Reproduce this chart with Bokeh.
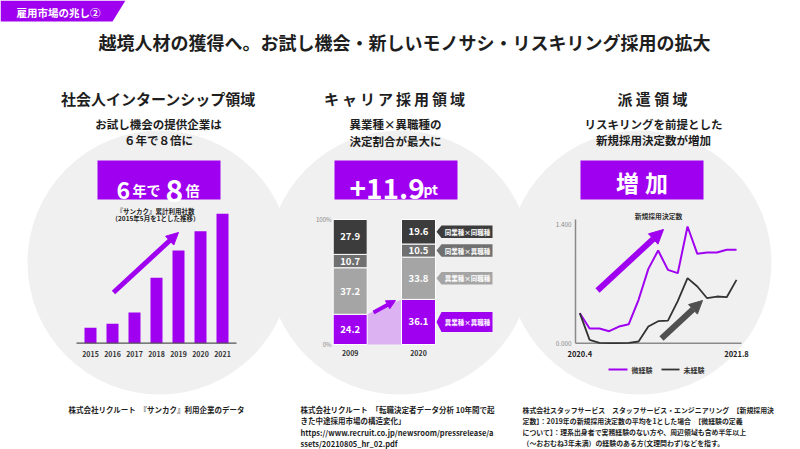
from bokeh.plotting import figure
from bokeh.models import Range1d, Arrow, NormalHead
from bokeh.core.properties import value
from bokeh.embed import file_html
from bokeh.resources import INLINE

W, H = 800, 449
FONT = "Noto Sans CJK JP"
PURPLE = "#a000f0"
LIGHT_PURPLE = "#dcb2f3"
BG = "#f0f0f0"
INK = "#1e1e1e"

# ---------------- data ----------------
sankaku_years = [2015, 2016, 2017, 2018, 2019, 2020, 2021]
sankaku_index = [1.00, 1.26, 2.00, 4.26, 6.04, 7.30, 8.43]

career_years = ["2009", "2020"]
career_ii = [24.2, 36.1]   # 異業種×異職種
career_is = [37.2, 33.8]   # 異業種×同職種
career_si = [10.7, 10.5]   # 同業種×異職種
career_ss = [27.9, 19.6]   # 同業種×同職種
career_tags = ["異業種×異職種", "異業種×同職種", "同業種×異職種", "同業種×同職種"]
career_colors = [PURPLE, "#a5a5a5", "#707070", "#3c3c3c"]

months = ["2020.4", "2020.5", "2020.6", "2020.7", "2020.8", "2020.9", "2020.10",
          "2020.11", "2020.12", "2021.1", "2021.2", "2021.3", "2021.4", "2021.5",
          "2021.6", "2021.7", "2021.8"]
slight_exp = [0.355, 0.173, 0.173, 0.142, 0.197, 0.225, 0.513, 0.879, 1.096,
              0.867, 0.828, 1.380, 1.057, 1.073, 1.073, 1.104, 1.104]
no_exp = [0.355, 0.040, 0.004, 0.000, 0.000, 0.004, 0.020, 0.197, 0.260,
          0.268, 0.497, 0.769, 0.670, 0.532, 0.552, 0.544, 0.749]
y_ticks = [0.0, 1.4]
y_tick_labels = ["0.000", "1.400"]

# ---------------- figure ----------------
p = figure(width=W, height=H, x_range=Range1d(0, W), y_range=Range1d(H, 0),
           output_backend="svg", toolbar_location=None, min_border=0,
           x_axis_location=None, y_axis_location=None,
           background_fill_color="white", border_fill_color="white",
           outline_line_color=None)
p.grid.visible = False
p.styles = {"position": "absolute", "left": "0px", "top": "0px"}


def span_range(v0, p0, v1, p1, total):
    k = (p1 - p0) / (v1 - v0)
    return Range1d(start=v0 - p0 / k, end=v0 + (total - p0) / k)


p.extra_x_ranges = {
    "bx": span_range(2015, 90, 2016, 112, W),
    "cx": span_range(0, 349.7, 1, 418, W),
    "lx": span_range(0, 579.3, 16, 736, W),
}
p.extra_y_ranges = {
    "by": span_range(0, H - 342.7, 8.43, H - 213.3, H),
    "cy": span_range(0, H - 344, 100, H - 219, H),
    "ly": span_range(0, H - 342.7, 1.4, H - 224.3, H),
}


def txt(x, y, s, size, color=INK, align="center", baseline="middle", bold=True, **kw):
    p.text(x=x if isinstance(x, list) else [x], y=y if isinstance(y, list) else [y],
           text=s if isinstance(s, list) else [s],
           text_font=value(FONT), text_font_size=f"{size}px", text_color=color,
           text_align=align, text_baseline=baseline,
           text_font_style="bold" if bold else "normal", **kw)


def arrow(x0, y0, x1, y1, color, lw, size):
    p.add_layout(Arrow(end=NormalHead(size=size, fill_color=color, line_color=color, line_width=1),
                       x_start=x0, y_start=y0, x_end=x1, y_end=y1,
                       line_color=color, line_width=lw))


# background circles
p.circle(x=[159, 399, 639], y=[262, 262, 262], radius=132, fill_color=BG, line_color=None)

# banner
p.patch([0, 125, 112, 0], [0, 0, 21, 21], fill_color=PURPLE, line_color=None)
txt(16, 12, "雇用市場の兆し②", 10.5, color="white", align="left")

# title
txt(404, 41, "越境人材の獲得へ。お試し機会・新しいモノサシ・リスキリング採用の拡大", 18)

# panel headers
txt(158, 98, "社会人インターンシップ領域", 15)
txt(394, 98, "キ\u2009ャ\u2009リ\u2009ア\u2009採\u2009用\u2009領\u2009域", 15)
txt(652, 98, "派 遣 領 域", 15)

txt(158, 123, "お試し機会の提供企業は", 11.5)
txt(158, 139, "６年で８倍に", 11.5)
txt(395, 123, "異業種×異職種の", 11.5)
txt(395, 140, "決定割合が最大に", 11.5)
txt(653, 123, "リスキリングを前提とした", 11.5)
txt(653, 139, "新規採用決定数が増加", 11.5)

# purple boxes
for x0 in (97, 334, 580):
    p.quad(left=[x0], right=[x0 + 123], top=[160], bottom=[199],
           fill_color=PURPLE, line_color=None)
txt(116, 190, "6", 23, color="white", align="left", baseline="alphabetic")
txt(132, 189, "年で", 14, color="white", align="left", baseline="alphabetic")
txt(165, 190, "8", 30, color="white", align="left", baseline="alphabetic")
txt(185, 189, "倍", 14, color="white", align="left", baseline="alphabetic")
txt(349, 188, "+11.9", 28, color="white", align="left", baseline="alphabetic")
txt(423, 188, "pt", 14, color="white", align="left", baseline="alphabetic")
txt(627, 181, "増", 23, color="white")
txt(656, 181, "加", 23, color="white")

# ---------------- left: bar chart ----------------
txt(155, 210, "『サンカク』累計利用社数", 6.5)
txt(155, 217.5, "（2015年5月を1とした推移）", 6.5)
p.vbar(x=sankaku_years, top=sankaku_index, bottom=0, width=12 / 22,
       fill_color=PURPLE, line_color=None, x_range_name="bx", y_range_name="by")
p.line([76, 236], [342.7, 342.7], line_color="#555555", line_width=1.2)
p.text(x=sankaku_years, y=[0] * len(sankaku_years), text=[str(y) for y in sankaku_years],
       x_range_name="bx", y_range_name="by", y_offset=10.5,
       text_font=value(FONT), text_font_size="7px", text_font_style="bold",
       text_color="#333333", text_align="center", text_baseline="middle")
arrow(113, 292, 178, 232, PURPLE, 5, 12)

# ---------------- middle: stacked bars ----------------
cx = [0, 1]
bw = 34 / 68.3
stackers = ["ii", "is", "si", "ss"]
src = dict(x=cx, ii=career_ii, **{"is": career_is}, si=career_si, ss=career_ss)
# light purple connector between the purple segments
p.patch([cx[0] + bw / 2, cx[1] - bw / 2, cx[1] - bw / 2, cx[0] + bw / 2],
        [0, 0, career_ii[1], career_ii[0]],
        fill_color=LIGHT_PURPLE, line_color=None, x_range_name="cx", y_range_name="cy")
p.vbar_stack(stackers, x="x", width=bw, source=src, color=career_colors,
             line_color="white", line_width=1, x_range_name="cx", y_range_name="cy")

series = [career_ii, career_is, career_si, career_ss]
for j in range(2):
    base = 0
    for s in series:
        v = s[j]
        txt([cx[j]], [base + v / 2], f"{v:.1f}", 9.5, color="white",
            x_range_name="cx", y_range_name="cy")
        base += v
txt([cx[0], cx[1]], [0, 0], career_years, 7, color="#333333",
    x_range_name="cx", y_range_name="cy", y_offset=8)
txt(331, 219, "100%", 6, color="#888888", align="right", bold=False)
txt(331, 344, "0%", 6, color="#888888", align="right", bold=False)

# tags next to the 2020 bar
base = 0
for s, lab, col in zip(series, career_tags, career_colors):
    v = s[1]
    c = base + v / 2
    hh = 5.0 if col != PURPLE else 8.0
    p.patch([436, 441, 492, 492, 441], [c, c + hh, c + hh, c - hh, c - hh],
            fill_color=col, line_color=None, y_range_name="cy")
    txt(467, c, lab, 6.5, color="white", y_range_name="cy")
    base += v
arrow(373, 312, 395, 300, PURPLE, 4, 9)

# ---------------- right: line chart ----------------
txt(658, 215, "新規採用決定数", 6.8, color="#333333")
p.line([575, 575], [219, 342.7], line_color="#8a8a8a", line_width=1.5)
p.line([575, 741], [342.7, 342.7], line_color="#8a8a8a", line_width=1.5)
txt([571, 571], y_ticks, y_tick_labels, 6.3, color="#888888", align="right",
    bold=False, y_range_name="ly")
idx = list(range(len(months)))
p.line(idx, slight_exp, line_color=PURPLE, line_width=2, x_range_name="lx", y_range_name="ly")
p.line(idx, no_exp, line_color="#333333", line_width=1.8, x_range_name="lx", y_range_name="ly")
txt([idx[0], idx[-1]], [0, 0], [months[0], months[-1]], 7.5, color="#222222",
    x_range_name="lx", y_range_name="ly", y_offset=10.5)
arrow(597, 290, 663, 229, PURPLE, 6, 14)
arrow(661, 338, 702, 300, "#505050", 6, 13)

# legend
p.line([608, 627], [369, 369], line_color=PURPLE, line_width=2)
txt(631, 369, "微経験", 7, color="#333333", align="left")
p.line([661, 679], [369, 369], line_color="#333333", line_width=1.8)
txt(683, 369, "未経験", 7, color="#333333", align="left")

# ---------------- footnotes ----------------
txt(68, 409, "株式会社リクルート　『サンカク』利用企業のデータ", 7.5, align="left")
mid_lines = ["株式会社リクルート　「転職決定者データ分析 10年間で起",
             "きた中途採用市場の構造変化」",
             "https://www.recruit.co.jp/newsroom/pressrelease/a",
             "ssets/20210805_hr_02.pdf"]
right_lines = ["株式会社スタッフサービス　スタッフサービス・エンジニアリング　【新規採用決",
               "定数】：2019年の新規採用決定数の平均を1とした場合　【微経験の定義",
               "について】：理系出身者で実務経験のない方や、周辺領域も含め半年以上",
               "（～おおむね3年未満）の経験のある方(文理問わず)などを指す。"]
for i, s in enumerate(mid_lines):
    txt(300, 409 + 11.3 * i, s, 7.5, align="left")
for i, s in enumerate(right_lines):
    txt(522, 409 + 11.3 * i, s, 6.9, align="left")

open("out.html", "w").write(file_html(p, INLINE))
